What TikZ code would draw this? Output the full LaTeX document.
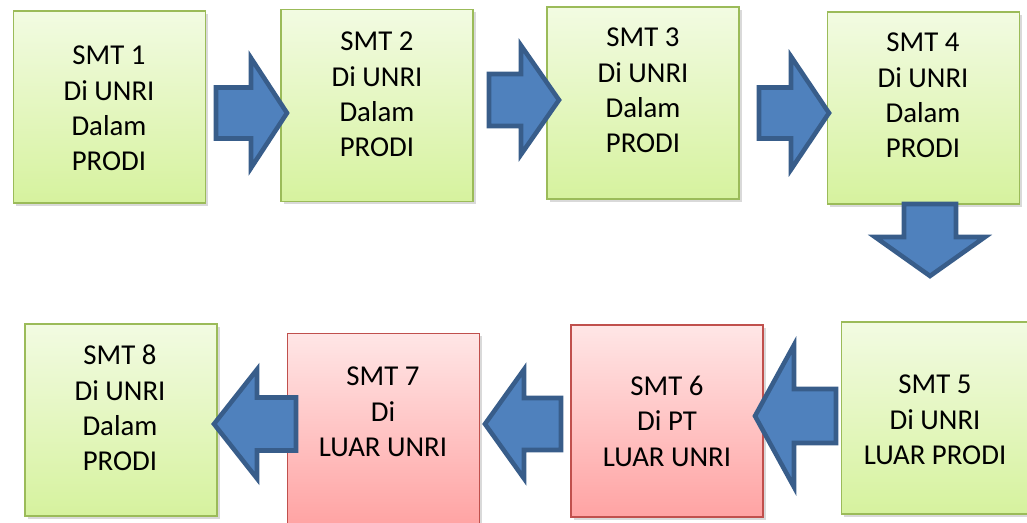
\documentclass[tikz,border=0pt]{standalone}
\usepackage{fontspec}
\setmainfont{Carlito}
\usetikzlibrary{calc}
\usetikzlibrary{shadows}
\definecolor{greentop}{RGB}{242,251,226}
\definecolor{greenbot}{RGB}{214,242,158}
\definecolor{greenline}{RGB}{155,187,89}
\definecolor{redtop}{RGB}{255,230,230}
\definecolor{redbot}{RGB}{255,163,163}
\definecolor{redline}{RGB}{192,80,77}
\definecolor{arrowfill}{RGB}{79,129,189}
\definecolor{arrowline}{RGB}{56,93,138}

% block arrow: tail, tip, shaft half width, head half width, head length
\newcommand{\blockarrow}[5]{%
  \draw[blockarr] ($(#1)!#3!90:(#2)$) -- ($(#2)!#5!(#1)!#3!90:(#2)$)
    -- ($(#2)!#5!(#1)!#4!90:(#2)$) -- (#2)
    -- ($(#2)!#5!(#1)!#4!-90:(#2)$) -- ($(#2)!#5!(#1)!#3!-90:(#2)$)
    -- ($(#1)!#3!-90:(#2)$) -- cycle;}

\tikzset{
  smtbox/.style={rectangle, minimum width=3.84cm, minimum height=3.84cm, line width=1.1pt,
    drop shadow={shadow xshift=1.5pt, shadow yshift=-1.5pt, opacity=0.3}},
  inbox/.style={smtbox, draw=greenline, top color=greentop, bottom color=greenbot},
  outbox/.style={smtbox, draw=redline, top color=redtop, bottom color=redbot},
  smttext/.style={align=center, font=\fontsize{16.4}{20.2}\selectfont},
  blockarr/.style={fill=arrowfill, draw=arrowline, line width=2.6pt}
}

\begin{document}
\begin{tikzpicture}[x=0.02cm, y=-0.02cm]
    \useasboundingbox (0,0) rectangle (1027,523);

    % top row
    \node[inbox] (s1) at (109.5,107) {};
    \node[inbox] (s2) at (377,105.5) {};
    \node[inbox] (s3) at (643,103) {};
    \node[inbox] (s4) at (923.5,108) {};
    % bottom row
    \node[inbox] (s5) at (937.5,418) {};
    \node[outbox] (s6) at (667,421) {};
    \node[outbox] (s7) at (383.5,429.5) {};
    \node[inbox] (s8) at (121,420) {};

    \node[smttext] (t1) at (109,108.5) {SMT 1\\Di UNRI\\Dalam\\PRODI};
    \node[smttext] (t2) at (377,94.5) {SMT 2\\Di UNRI\\Dalam\\PRODI};
    \node[smttext] (t3) at (643,90.5) {SMT 3\\Di UNRI\\Dalam\\PRODI};
    \node[smttext] (t4) at (923,95.5) {SMT 4\\Di UNRI\\Dalam\\PRODI};
    \node[smttext] (t5) at (935,420) {SMT 5\\Di UNRI\\LUAR PRODI};
    \node[smttext] (t6) at (667,421) {SMT 6\\Di PT\\LUAR UNRI};
    \node[smttext] (t7) at (383,412) {SMT 7\\Di\\LUAR UNRI};
    \node[smttext] (t8) at (120,408) {SMT 8\\Di UNRI\\Dalam\\PRODI};

    % arrows between semesters
    \foreach \i/\tx/\ty/\px/\py/\w/\h/\l in {
        1/216/113/287/113/0.51cm/1.10cm/0.72cm,
        2/489/100/559/100/0.52cm/1.09cm/0.76cm,
        3/759/113/829/113/0.51cm/1.13cm/0.76cm,
        4/930/204/930/276/0.52cm/1.10cm/0.78cm,
        5/836/416/755/416/0.54cm/1.42cm/0.78cm,
        6/561/424/485/424/0.52cm/1.09cm/0.78cm,
        7/296/424/214/424/0.53cm/1.09cm/0.86cm} {
        \coordinate (tail\i) at (\tx,\ty);
        \coordinate (tip\i) at (\px,\py);
        \blockarrow{tail\i}{tip\i}{\w}{\h}{\l}
    }
\end{tikzpicture}
\end{document}
